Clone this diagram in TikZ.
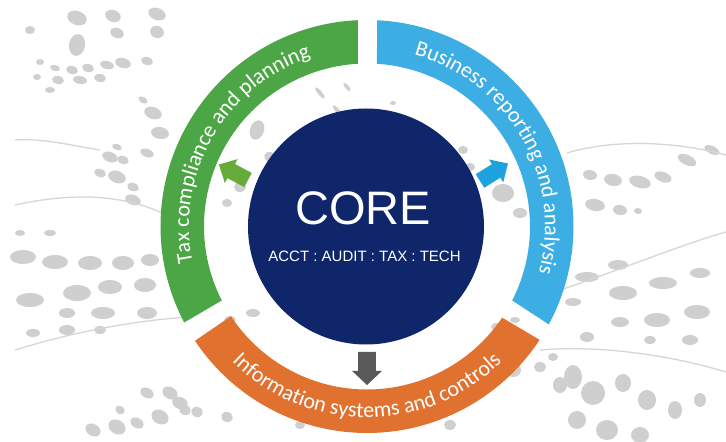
\documentclass[tikz,border=0pt]{standalone}
\usepackage{fontspec}
\setmainfont{Liberation Sans}
\newfontfamily\ringfont{Carlito}
\usetikzlibrary{decorations.text,calc}
\definecolor{ringgreen}{HTML}{4CA646}
\definecolor{ringblue}{HTML}{3DAEE4}
\definecolor{ringorange}{HTML}{E0712F}
\definecolor{corenavy}{HTML}{0F276A}
\definecolor{arrgreen}{HTML}{67AA3C}
\definecolor{arrblue}{HTML}{1EA3DF}
\definecolor{arrgray}{HTML}{595959}
\definecolor{dotgray}{HTML}{CFCFCF}
\definecolor{linegray}{HTML}{D6D6D6}
\tikzset{
  dotfill/.style={fill=dotgray},
  bgline/.style={draw=linegray, line width=1.3pt},
  ringtext/.style={decorate, decoration={text along path, text align=center, text color=white, text={|\ringfont\fontsize{22}{26}\selectfont|#1}}},
  blockarrow/.pic={\fill[pic actions] (0,-8) -- (19,-8) -- (19,-13.5) -- (33,0) -- (19,13.5) -- (19,8) -- (0,8) -- cycle;}
}
\begin{document}
\begin{tikzpicture}[x=1pt,y=1pt]
\useasboundingbox (0,0) rectangle (726,442);
\fill[white] (0,0) rectangle (726,442);
\coordinate (C) at (367,215.5);
% background dots
\foreach \x/\y/\a/\b/\r in {
77/18/10/7/-20, 113/16/8/6/-20, 157/14/9/6/-20, 30/30/5/4/0, 77/45/8/11/-10,
117/33/7/5/-20, 157/32/7/6/-20, 40/62/4/3/0, 55/68/5/3/-15, 72/70/6/4/-15,
88/68/6/4/-15, 107/65/7/4/-15, 123/63/8/5/-15, 147/61/6/4/-15, 37/77/4/3/0,
58/80/6/4/-10, 80/80/7/4/-10, 100/78/6/4/-10, 50/90/5/3/0, 143/100/5/3/-30,
153/113/9/6/-20, 160/133/9/6/-10, 117/147/5/3/-20, 110/157/8/5/-20, 123/160/6/4/-20,
147/153/7/4/-20, 100/173/6/4/-20, 117/177/9/6/-20, 133/187/6/4/-20, 133/200/8/5/-20,
20/233/5/3/0, 50/233/6/3/0, 23/257/13/7/0, 55/262/13/7/0, 90/263/12/7/0,
123/263/11/7/0, 150/260/9/6/0, 30/300/14/7/0, 77/293/14/8/0, 110/287/12/7/0,
145/285/11/7/0, 67/313/8/5/0, 103/313/12/6/0, 147/313/10/6/0, 33/333/7/4/0,
67/330/8/5/0, 100/330/6/4/0,
147/393/7/5/-30, 170/393/8/6/-30, 120/410/5/4/-30, 93/430/8/6/-30, 117/427/9/7/-30,
137/423/7/5/-30, 160/417/9/7/-30, 185/410/6/5/-30, 180/403/8/6/-20, 197/412/6/5/-20, 227/417/6/5/-20,
590/175/7/5/-10, 613/180/9/6/-10, 640/182/11/6/-15, 663/177/9/5/-20, 687/160/10/5/-25,
712/150/8/4/-25, 595/205/10/6/-10, 620/210/7/5/-10, 638/211/4/3/-10, 587/277/12/5/0,
618/265/10/5/0, 623/293/14/7/0, 663/283/14/6/0, 700/273/10/5/0, 573/302/8/4/0,
657/320/13/7/0, 697/312/13/7/0, 620/322/9/5/0, 587/337/7/5/0, 690/340/8/5/0,
650/340/6/4/0, 573/377/9/12/0, 593/393/12/12/0, 623/383/8/9/0, 647/400/9/10/0,
675/410/7/9/0, 577/420/9/9/0, 607/430/11/10/0, 640/435/9/8/0, 700/400/6/7/0,
513/370/8/7/0, 540/367/6/5/0, 560/385/7/8/0, 553/357/5/4/0,
257/130/7/10/-20, 270/157/6/5/-20, 240/187/6/5/0, 227/203/5/4/0,
300/73/6/2/-50, 320/93/7/2/-50, 337/110/6/2/-50, 347/87/5/2/-50,
393/103/3/2/0, 463/150/5/4/0, 470/167/5/4/0, 503/193/11/9/0, 520/213/7/5/0,
230/320/6/4/0, 253/313/7/4/0, 497/327/6/4/0, 515/320/5/3/0,
300/425/5/4/0, 330/410/4/3/0, 420/410/4/3/0, 450/425/6/5/0}
  \fill[dotfill, rotate around={\r:(\x,{442-\y})}] (\x,{442-\y}) ellipse[x radius=\a, y radius=\b];
% background curves
\draw[bgline] (15,442-205) .. controls (60,442-195) and (120,442-190) .. (170,442-217);
\draw[bgline] (15,442-350) .. controls (80,442-330) and (140,442-320) .. (190,442-317);
\draw[bgline] (15,442-140) .. controls (40,442-138) and (70,442-145) .. (100,442-150);
\draw[bgline] (567,442-153) .. controls (610,442-140) and (670,442-140) .. (726,442-155);
\draw[bgline] (560,442-290) .. controls (620,442-270) and (680,442-245) .. (726,442-232);
\draw[bgline] (540,442-350) .. controls (600,442-345) and (670,442-355) .. (726,442-372);
% ring segments
\fill[ringgreen] ($(C)+(92.5:206.5)$) arc[start angle=92.5, end angle=207.7, radius=206.5]
  -- ($(C)+(207:163)$) arc[start angle=207, end angle=93.2, radius=163] -- cycle;
\fill[ringblue] ($(C)+(87.2:206.5)$) arc[start angle=87.2, end angle=-28.3, radius=206.5]
  -- ($(C)+(-27:163)$) arc[start angle=-27, end angle=86.5, radius=163] -- cycle;
\fill[ringorange] ($(C)+(213.6:206.5)$) arc[start angle=213.6, end angle=326.7, radius=206.5]
  -- ($(C)+(326:163)$) arc[start angle=326, end angle=213.4, radius=163] -- cycle;
% ring labels
\path[ringtext={Tax compliance and planning}] ($(C)+(210:178)$) arc[start angle=210, end angle=90, radius=178];
\path[ringtext={Business reporting and analysis}] ($(C)+(89.75:178)$) arc[start angle=89.75, end angle=-30.25, radius=178];
\path[ringtext={Information systems and controls}] ($(C)+(210:191)$) arc[start angle=210, end angle=330, radius=191];
% core
\node[circle, fill=corenavy, minimum size=236pt, inner sep=0pt] (core) at (366,215.5) {};
\node[anchor=base, text=white, font=\fontsize{47}{50}\selectfont, inner sep=0pt] (title) at (363,217) {CORE};
\node[anchor=base, text=white, font=\fontsize{15}{18}\selectfont, inner sep=0pt] (sub) at (364.5,180) {ACCT : AUDIT : TAX : TECH};
% arrows
\pic[fill=arrgreen, rotate=152] at (248,262) {blockarrow};
\pic[fill=arrblue, rotate=32] at (480,261) {blockarrow};
\pic[fill=arrgray, rotate=-90, yscale=1.1] at (367,90) {blockarrow};
\end{tikzpicture}
\end{document}
